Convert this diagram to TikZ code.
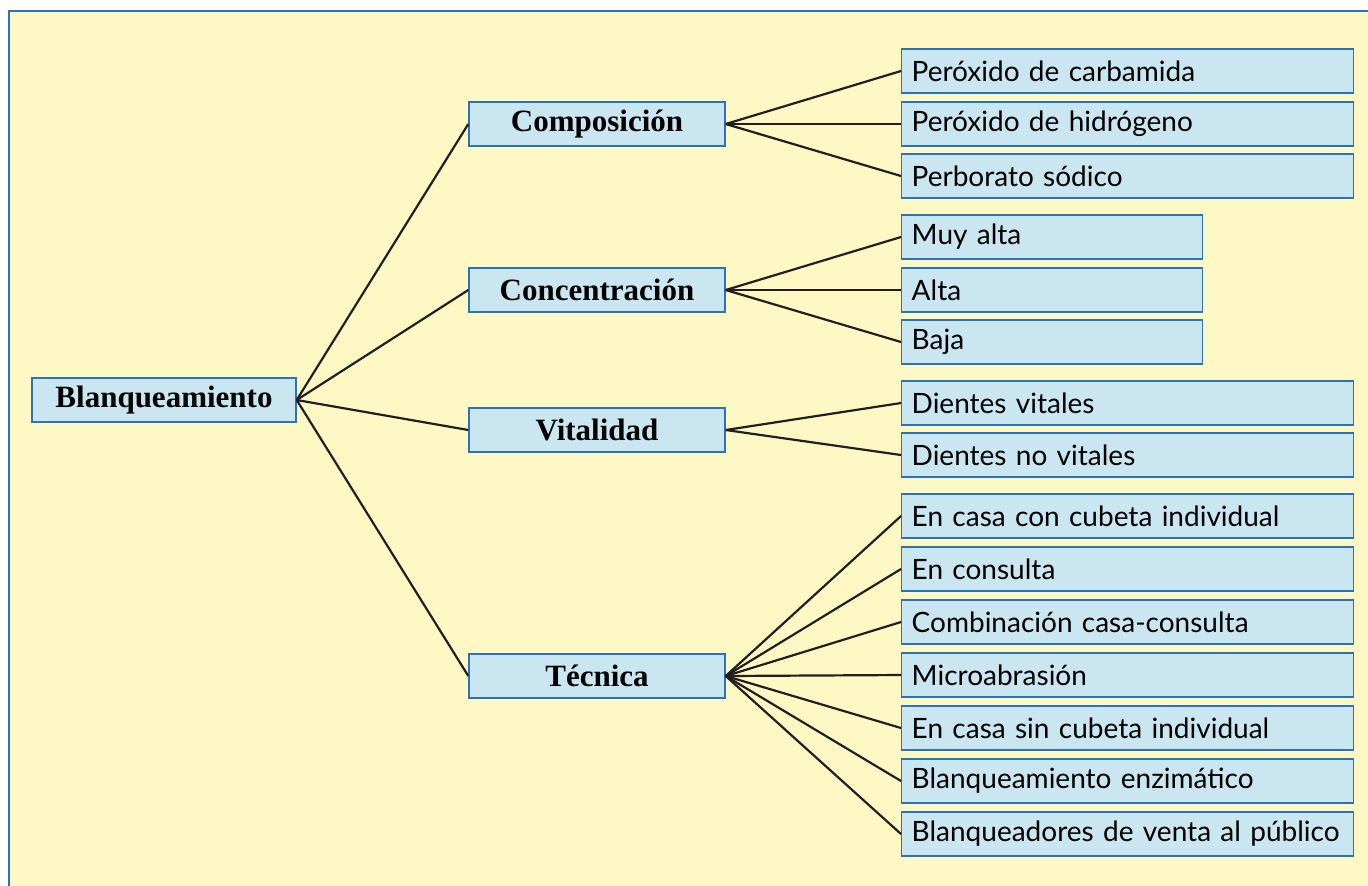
\documentclass[tikz,border=0pt]{standalone}
\usepackage{fontspec}
\setmainfont{Lato}
\newfontfamily\catfont{Liberation Serif}
\usepackage{xcolor}

\definecolor{fondo}{HTML}{FEF9C4}
\definecolor{caja}{HTML}{C9E6F1}
\definecolor{borde}{HTML}{2B72B8}
\definecolor{linea}{HTML}{231F20}

\tikzset{
    cat/.style={draw=borde,fill=caja,line width=0.7pt,minimum width=128pt,minimum height=22pt,
        inner sep=0pt,font=\catfont\bfseries\fontsize{15.5}{17}\selectfont},
    hoja/.style={draw=borde,fill=caja,line width=0.7pt,anchor=west,minimum height=22pt,
        inner xsep=5pt,inner ysep=0pt,text width=216pt,align=left,
        font=\fontsize{14}{16}\selectfont},
    hojacorta/.style={hoja,text width=140.5pt},
    rama/.style={draw=linea,line width=1.1pt}
}

\begin{document}
\begin{tikzpicture}[x=0.5pt,y=-0.5pt]
        \useasboundingbox (0,0) rectangle (1368,885);
        \clip (0,0) rectangle (1368,885);
        \draw[draw=borde,fill=fondo,line width=1pt] (9,11) rectangle (1390,910);

        % raiz y categorias
        \node[cat,minimum width=132pt] (raiz) at (164,400) {Blanqueamiento};
        \node[cat] (comp) at (597,124) {Composición};
        \node[cat] (conc) at (597,290) {Concentración};
        \node[cat] (vita) at (597,430) {Vitalidad};
        \node[cat] (tecn) at (597,676) {Técnica};

        % hojas
        \foreach \n/\y/\t in {c1/71/Peróxido de carbamida,c2/124/Peróxido de hidrógeno,c3/176/Perborato sódico,
            v1/403/Dientes vitales,v2/455/Dientes no vitales,
            t1/516/En casa con cubeta individual,t2/569/En consulta,t3/622/Combinación casa-consulta,
            t4/675/Microabrasión,t5/728/En casa sin cubeta individual,t6/781/Blanqueamiento enzimático,
            t7/834/Blanqueadores de venta al público}
            \node[hoja] (\n) at (901,\y) {\mbox{\t}};
        \foreach \n/\y/\t in {k1/237/Muy alta,k2/290/Alta,k3/342/Baja}
            \node[hojacorta] (\n) at (901,\y) {\t};

        % ramas
        \foreach \n in {comp,conc,vita,tecn}
            \draw[rama] (raiz.east) -- (\n.west);
        \foreach \n in {c1,c2,c3}
            \draw[rama] (comp.east) -- (\n.west);
        \foreach \n in {k1,k2,k3}
            \draw[rama] (conc.east) -- (\n.west);
        \foreach \n in {v1,v2}
            \draw[rama] (vita.east) -- (\n.west);
        \foreach \n in {t1,t2,t3,t4,t5,t6,t7}
            \draw[rama] (tecn.east) -- (\n.west);
    \end{tikzpicture}
\end{document}
